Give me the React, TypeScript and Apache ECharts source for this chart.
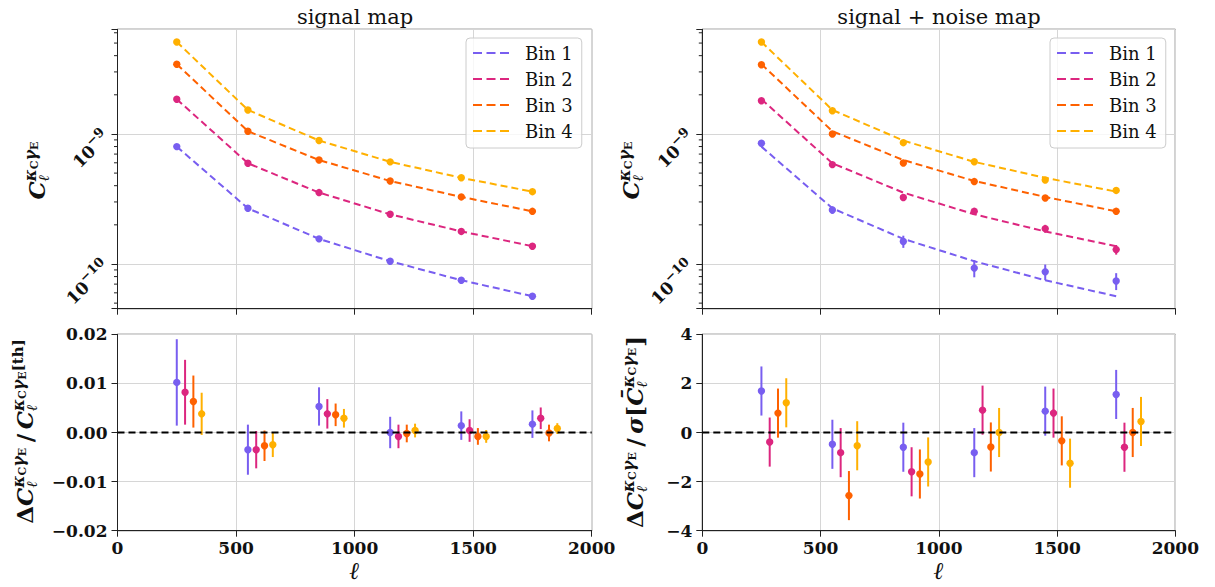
import React, { useEffect, useRef } from 'react';
import * as echarts from 'echarts';

// ---------------- data ----------------
const ELL = [250, 550, 850, 1150, 1450, 1750];
const BIN_NAMES = ['Bin 1', 'Bin 2', 'Bin 3', 'Bin 4'];
const BIN_COLORS = ['#785EF0', '#DC267F', '#FE6100', '#FFB000'];
const BIN_ELL_OFFSET = [0, 35, 70, 105];

const X_TICKS = [0, 500, 1000, 1500, 2000];
const X_TICK_LABELS = ['0', '500', '1000', '1500', '2000'];
const LOG_TICKS = [1e-10, 1e-9];
const LOG_TICK_EXPONENTS = ['−10', '−9'];
const LOG_MINOR_TICKS = [5e-11, 6e-11, 7e-11, 8e-11, 9e-11, 2e-10, 3e-10, 4e-10, 5e-10, 6e-10, 7e-10, 8e-10, 9e-10, 2e-9, 3e-9, 4e-9, 5e-9, 6e-9];
const FRAC_TICKS = [-0.02, -0.01, 0, 0.01, 0.02];
const FRAC_TICK_LABELS = ['−0.02', '−0.01', '0.00', '0.01', '0.02'];
const SIG_TICKS = [-4, -2, 0, 2, 4];
const SIG_TICK_LABELS = ['−4', '−2', '0', '2', '4'];

// theory spectra (dashed lines)
const THEORY_BIN1 = [7.99e-10, 2.68e-10, 1.56e-10, 1.05e-10, 7.5e-11, 5.65e-11];
const THEORY_BIN2 = [1.85e-9, 5.95e-10, 3.54e-10, 2.41e-10, 1.78e-10, 1.37e-10];
const THEORY_BIN3 = [3.44e-9, 1.05e-9, 6.3e-10, 4.35e-10, 3.28e-10, 2.54e-10];
const THEORY_BIN4 = [5.1e-9, 1.53e-9, 8.9e-10, 6.1e-10, 4.6e-10, 3.6e-10];

// signal map measurements
const SIGNAL_BIN1 = [7.99e-10, 2.68e-10, 1.56e-10, 1.05e-10, 7.5e-11, 5.65e-11];
const SIGNAL_BIN2 = [1.85e-9, 5.95e-10, 3.54e-10, 2.41e-10, 1.78e-10, 1.37e-10];
const SIGNAL_BIN3 = [3.44e-9, 1.05e-9, 6.3e-10, 4.35e-10, 3.28e-10, 2.54e-10];
const SIGNAL_BIN4 = [5.1e-9, 1.53e-9, 8.9e-10, 6.1e-10, 4.6e-10, 3.6e-10];

// signal + noise map measurements and errors
const SN_BIN1 = [8.47e-10, 2.6e-10, 1.49e-10, 9.3e-11, 8.7e-11, 7.4e-11];
const SN_ERR_BIN1 = [2.8e-11, 1.7e-11, 1.6e-11, 1.4e-11, 1.2e-11, 1.1e-11];
const SN_BIN2 = [1.8e-9, 5.81e-10, 3.25e-10, 2.54e-10, 1.87e-10, 1.29e-10];
const SN_ERR_BIN2 = [5.4e-11, 2.3e-11, 1.6e-11, 1.5e-11, 1.3e-11, 1.1e-11];
const SN_BIN3 = [3.41e-9, 1.0e-9, 5.98e-10, 4.3e-10, 3.22e-10, 2.54e-10];
const SN_ERR_BIN3 = [6.8e-11, 3.0e-11, 2.1e-11, 1.7e-11, 1.45e-11, 1.27e-11];
const SN_BIN4 = [5.1e-9, 1.51e-9, 8.57e-10, 6.12e-10, 4.43e-10, 3.68e-10];
const SN_ERR_BIN4 = [1.0e-10, 3.8e-11, 2.6e-11, 2.1e-11, 1.8e-11, 1.7e-11];

// relative residuals, signal map
const FRAC_BIN1 = [0.0102, -0.0035, 0.0053, 0.0, 0.0014, 0.0017];
const FRAC_ERR_BIN1 = [0.0088, 0.0051, 0.0039, 0.0032, 0.0029, 0.0028];
const FRAC_BIN2 = [0.0082, -0.0035, 0.0038, -0.0008, 0.0004, 0.0029];
const FRAC_ERR_BIN2 = [0.0066, 0.0038, 0.003, 0.0024, 0.0023, 0.0022];
const FRAC_BIN3 = [0.0063, -0.0027, 0.0036, -0.0002, -0.0008, -0.0001];
const FRAC_ERR_BIN3 = [0.0053, 0.0031, 0.0023, 0.0018, 0.0017, 0.0017];
const FRAC_BIN4 = [0.0038, -0.0025, 0.0029, 0.0004, -0.0008, 0.0008];
const FRAC_ERR_BIN4 = [0.0043, 0.0025, 0.0019, 0.0014, 0.0013, 0.0011];

// residuals in units of sigma, signal + noise map
const NSIG_BIN1 = [1.69, -0.48, -0.6, -0.82, 0.87, 1.55];
const NSIG_BIN2 = [-0.39, -0.82, -1.6, 0.91, 0.79, -0.6];
const NSIG_BIN3 = [0.79, -2.57, -1.69, -0.59, -0.34, 0.0];
const NSIG_BIN4 = [1.21, -0.54, -1.2, 0.0, -1.25, 0.45];
const NSIG_ERR = [1, 1, 1, 1, 1, 1];

const ZERO_LINE = [[0, 0], [2000, 0]];

const THEORY = [THEORY_BIN1, THEORY_BIN2, THEORY_BIN3, THEORY_BIN4];
const SIGNAL = [SIGNAL_BIN1, SIGNAL_BIN2, SIGNAL_BIN3, SIGNAL_BIN4];
const SN = [SN_BIN1, SN_BIN2, SN_BIN3, SN_BIN4];
const SN_ERR = [SN_ERR_BIN1, SN_ERR_BIN2, SN_ERR_BIN3, SN_ERR_BIN4];
const FRAC = [FRAC_BIN1, FRAC_BIN2, FRAC_BIN3, FRAC_BIN4];
const FRAC_ERR = [FRAC_ERR_BIN1, FRAC_ERR_BIN2, FRAC_ERR_BIN3, FRAC_ERR_BIN4];
const NSIG = [NSIG_BIN1, NSIG_BIN2, NSIG_BIN3, NSIG_BIN4];

// ---------------- helpers ----------------
const FONT = '"DejaVu Serif", serif';
const INK = '#111';

let measureCtx: CanvasRenderingContext2D | null = null;
function textWidth(text: string, font: string): number {
  if (!measureCtx) measureCtx = document.createElement('canvas').getContext('2d');
  if (!measureCtx) return text.length * 10;
  measureCtx.font = font;
  return measureCtx.measureText(text).width;
}

type P = { t: string; size: number; it?: boolean; reg?: boolean; dy?: number };
type Item = P | { sup: P[]; sub: P[] };

function fontOf(p: P) {
  return `${p.it ? 'italic ' : ''}${p.reg ? 'normal' : 'bold'} ${p.size}px "DejaVu Serif"`;
}

function runPieces(ps: P[], x0: number, out: any[]) {
  let x = x0;
  for (const p of ps) {
    const f = fontOf(p);
    out.push({
      type: 'text',
      x,
      y: p.dy || 0,
      style: {
        text: p.t,
        font: f,
        fill: INK,
        align: 'left',
        verticalAlign: 'middle',
        textAlign: 'left',
        textVerticalAlign: 'middle',
      },
    });
    x += textWidth(p.t, f);
  }
  return x - x0;
}

function buildAxisTitle(items: Item[], cx: number, cy: number) {
  const children: any[] = [];
  let x = 0;
  for (const it of items) {
    if ((it as any).sup) {
      const s = it as { sup: P[]; sub: P[] };
      const a = runPieces(s.sup, x, children);
      const b = runPieces(s.sub, x, children);
      x += Math.max(a, b) + 1;
    } else {
      x += runPieces([it as P], x, children);
    }
  }
  const shift = -x / 2;
  children.forEach((c) => (c.x += shift));
  return { type: 'group', x: cx, y: cy, rotation: Math.PI / 2, silent: true, children };
}

const SUP_KC: P[] = [
  { t: 'κ', size: 16, it: true, dy: -6 },
  { t: 'C', size: 11, dy: -2 },
  { t: 'γ', size: 16, it: true, dy: -6 },
  { t: 'E', size: 11, dy: -2 },
];
const SUB_ELL: P[] = [{ t: 'ℓ', size: 15, it: true, dy: 8 }];

function lookup(ticks: number[], labels: string[], v: number) {
  const i = ticks.findIndex((t) => Math.abs(t - v) < 1e-9);
  return i >= 0 ? labels[i] : '';
}
function logLookup(v: number) {
  const i = LOG_TICKS.findIndex((t) => Math.abs(Math.log10(t) - Math.log10(v)) < 1e-6);
  return i >= 0 ? `{b|10}{s|${LOG_TICK_EXPONENTS[i]}}` : '';
}

const DASH_ICON = 'path://M0,0H9V2H0Z M13.5,0H22.5V2H13.5Z M27,0H36V2H27Z';

const GRIDS = [
  { left: 117.5, top: 29.3, width: 474.2, height: 279.4 },
  { left: 702.3, top: 29.3, width: 473, height: 279.4 },
  { left: 117.5, top: 334.3, width: 474.2, height: 196.4 },
  { left: 702.3, top: 334.3, width: 473, height: 196.4 },
];

function errSeries(name: string, color: string, gi: number, data: number[][]) {
  return {
    type: 'custom',
    name,
    xAxisIndex: gi,
    yAxisIndex: gi,
    z: 3,
    silent: true,
    encode: { x: 0, y: 1 },
    data,
    renderItem: (_p: any, api: any) => {
      const x = api.value(0);
      const y = api.value(1);
      const e = api.value(2);
      const c = api.coord([x, y]);
      const t = api.coord([x, y + e]);
      const b = api.coord([x, y - e]);
      return {
        type: 'group',
        children: [
          { type: 'line', shape: { x1: c[0], y1: t[1], x2: c[0], y2: b[1] }, style: { stroke: color, lineWidth: 2 } },
          { type: 'circle', shape: { cx: c[0], cy: c[1], r: 3.7 }, style: { fill: color } },
        ],
      };
    },
  };
}

function minorTickSeries(gi: number) {
  return {
    type: 'custom',
    xAxisIndex: gi,
    yAxisIndex: gi,
    silent: true,
    z: 1,
    encode: { x: 0, y: 1 },
    data: LOG_MINOR_TICKS.map((v) => [0, v]),
    renderItem: (_p: any, api: any) => {
      const c = api.coord([0, api.value(1)]);
      return { type: 'line', shape: { x1: c[0] - 3.5, y1: c[1], x2: c[0], y2: c[1] }, style: { stroke: '#222', lineWidth: 1 } };
    },
  };
}

function buildOption() {
  const tickFont = { fontSize: 17, fontWeight: 'bold', color: INK, fontFamily: FONT };
  const xAxis = GRIDS.map((_, i) => ({
    gridIndex: i,
    type: 'value',
    min: 0,
    max: 2000,
    interval: 500,
    axisLine: { show: true, onZero: false, lineStyle: { color: '#222', width: 1 } },
    axisTick: { show: true, inside: false, length: 6, lineStyle: { color: '#222', width: 1 } },
    axisLabel: i < 2 ? { show: false } : { show: true, margin: 9, ...tickFont, formatter: (v: number) => lookup(X_TICKS, X_TICK_LABELS, v) },
    splitLine: { show: true, lineStyle: { color: '#d6d6d6', width: 1 } },
    name: i >= 2 ? 'ℓ' : '',
    nameLocation: 'middle',
    nameGap: 28,
    nameTextStyle: { fontSize: 24, fontWeight: 'bold', fontStyle: 'italic', color: INK, fontFamily: FONT },
  }));
  const logY = (i: number) => ({
    gridIndex: i,
    type: 'log',
    logBase: 10,
    min: 4.53e-11,
    max: 6.38e-9,
    axisLine: { show: true, onZero: false, lineStyle: { color: '#222', width: 1 } },
    axisTick: { show: true, inside: false, length: 6, lineStyle: { color: '#222', width: 1 } },
    axisLabel: {
      show: true,
      rotate: 45,
      margin: 11,
      formatter: logLookup,
      rich: {
        b: { fontSize: 17, fontWeight: 'bold', color: INK, fontFamily: FONT, lineHeight: 26 },
        s: { fontSize: 13, fontWeight: 'bold', color: INK, fontFamily: FONT, lineHeight: 14, verticalAlign: 'top' },
      },
    },
    splitLine: { show: true, lineStyle: { color: '#d6d6d6', width: 1 } },
  });
  const linY = (i: number, min: number, max: number, interval: number, ticks: number[], labels: string[]) => ({
    gridIndex: i,
    type: 'value',
    min,
    max,
    interval,
    axisLine: { show: true, onZero: false, lineStyle: { color: '#222', width: 1 } },
    axisTick: { show: true, inside: false, length: 6, lineStyle: { color: '#222', width: 1 } },
    axisLabel: { show: true, margin: 10, ...tickFont, formatter: (v: number) => lookup(ticks, labels, v) },
    splitLine: { show: true, lineStyle: { color: '#d6d6d6', width: 1 } },
  });
  const yAxis = [
    logY(0),
    logY(1),
    linY(2, -0.02, 0.02, 0.01, FRAC_TICKS, FRAC_TICK_LABELS),
    linY(3, -4, 4, 2, SIG_TICKS, SIG_TICK_LABELS),
  ];

  const series: any[] = [];
  for (const gi of [0, 1]) {
    BIN_NAMES.forEach((name, b) => {
      series.push({
        type: 'line',
        name,
        xAxisIndex: gi,
        yAxisIndex: gi,
        data: ELL.map((l, k) => [l, THEORY[b][k]]),
        symbol: 'none',
        color: BIN_COLORS[b],
        itemStyle: { color: BIN_COLORS[b] },
        lineStyle: { color: BIN_COLORS[b], width: 2, type: [7, 4] },
        z: 2,
        silent: true,
      });
    });
    series.push(minorTickSeries(gi));
  }
  BIN_NAMES.forEach((name, b) => {
    series.push({
      type: 'scatter',
      name: name + ' signal',
      xAxisIndex: 0,
      yAxisIndex: 0,
      data: ELL.map((l, k) => [l, SIGNAL[b][k]]),
      symbolSize: 7.4,
      itemStyle: { color: BIN_COLORS[b], opacity: 1 },
      z: 3,
      silent: true,
    });
  });
  BIN_NAMES.forEach((name, b) => {
    series.push(errSeries(name + ' signal+noise', BIN_COLORS[b], 1, ELL.map((l, k) => [l, SN[b][k], SN_ERR[b][k]])));
  });
  BIN_NAMES.forEach((name, b) => {
    series.push(errSeries(name + ' frac', BIN_COLORS[b], 2, ELL.map((l, k) => [l + BIN_ELL_OFFSET[b], FRAC[b][k], FRAC_ERR[b][k]])));
    series.push(errSeries(name + ' nsig', BIN_COLORS[b], 3, ELL.map((l, k) => [l + BIN_ELL_OFFSET[b], NSIG[b][k], NSIG_ERR[k]])));
  });
  for (const gi of [2, 3]) {
    series.push({
      type: 'line',
      name: 'zero',
      xAxisIndex: gi,
      yAxisIndex: gi,
      data: ZERO_LINE,
      symbol: 'none',
      lineStyle: { color: '#000', width: 2, type: [7, 4] },
      z: 5,
      silent: true,
    });
  }

  const legendBase = {
    orient: 'vertical',
    top: 38,
    itemWidth: 36,
    itemHeight: 2,
    itemGap: 8,
    padding: [6, 9, 8, 7],
    backgroundColor: 'rgba(255,255,255,0.8)',
    borderColor: '#cccccc',
    borderWidth: 1,
    borderRadius: 4,
    selectedMode: false,
    textStyle: { fontSize: 18, lineHeight: 18, color: INK, fontFamily: FONT, padding: [0, 0, 0, 11] },
    data: BIN_NAMES.map((n) => ({ name: n, icon: DASH_ICON })),
  };

  const graphic = [
    { type: 'text', x: 355, y: 17, silent: true, style: { text: 'signal map', font: `normal 21px ${FONT}`, fill: INK, align: 'center', verticalAlign: 'middle', textAlign: 'center', textVerticalAlign: 'middle' } },
    { type: 'text', x: 939, y: 17, silent: true, style: { text: 'signal + noise map', font: `normal 21px ${FONT}`, fill: INK, align: 'center', verticalAlign: 'middle', textAlign: 'center', textVerticalAlign: 'middle' } },
    buildAxisTitle([{ t: 'C', size: 23, it: true }, { sup: SUP_KC, sub: SUB_ELL }], 36, 170),
    buildAxisTitle([{ t: 'C', size: 23, it: true }, { sup: SUP_KC, sub: SUB_ELL }], 630, 170),
    buildAxisTitle(
      [
        { t: 'Δ', size: 23 },
        { t: 'C', size: 23, it: true },
        { sup: SUP_KC, sub: SUB_ELL },
        { t: '\u2009/\u2009', size: 23 },
        { t: 'C', size: 23, it: true },
        { sup: [...SUP_KC, { t: '[th]', size: 15, dy: -6 }], sub: SUB_ELL },
      ],
      24,
      431
    ),
    buildAxisTitle(
      [
        { t: 'Δ', size: 23 },
        { t: 'C', size: 23, it: true },
        { sup: SUP_KC, sub: SUB_ELL },
        { t: '\u2009/\u2009', size: 23 },
        { t: 'σ', size: 23, it: true },
        { t: '[', size: 23 },
        { t: 'C\u0304', size: 23, it: true },
        { sup: SUP_KC, sub: SUB_ELL },
        { t: ']', size: 23 },
      ],
      634,
      432
    ),
  ];

  return {
    animation: false,
    backgroundColor: '#ffffff',
    textStyle: { fontFamily: FONT },
    grid: GRIDS.map((g) => ({ ...g, show: true, borderColor: '#222', borderWidth: 1, backgroundColor: 'transparent', containLabel: false })),
    xAxis,
    yAxis,
    legend: [
      { ...legendBase, left: 466 },
      { ...legendBase, left: 1050 },
    ],
    graphic,
    series,
  };
}

export default function App() {
  const ref = useRef<HTMLDivElement>(null);
  useEffect(() => {
    if (!ref.current) return;
    const chart = echarts.init(ref.current, undefined, { renderer: 'svg' });
    chart.setOption(buildOption() as any);
    return () => chart.dispose();
  }, []);
  return <div ref={ref} style={{ position: 'absolute', left: 0, top: 0, width: 1215, height: 587 }} />;
}
